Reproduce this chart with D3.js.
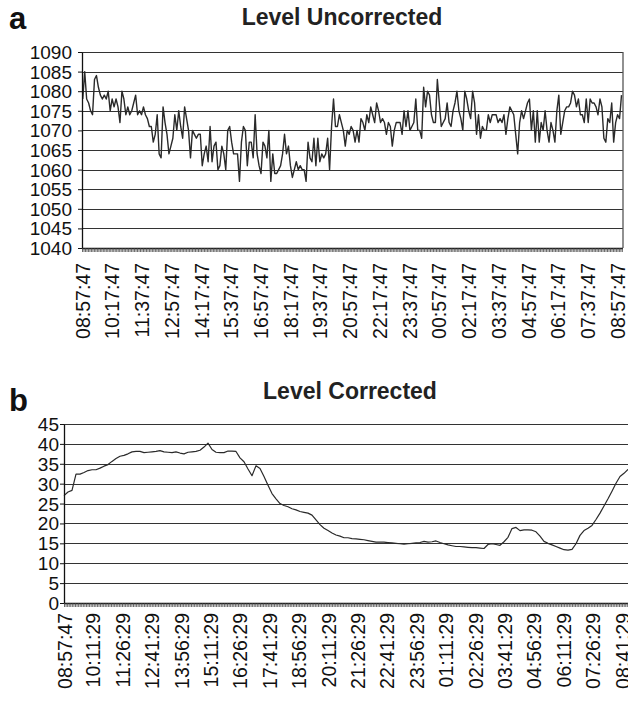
<!DOCTYPE html>
<html lang="en">
  <head>
    <meta charset="UTF-8" />
    <title>Level Uncorrected / Level Corrected</title>
    <style>
      body {
        margin: 0;
        background: #fff;
        font-family: "Liberation Sans", Arial, Helvetica, sans-serif;
      }
      svg {
        display: block;
      }
    </style>
  </head>
  <body>
    <script src="https://cdn.jsdelivr.net/npm/d3@7"></script>
    <script>
      // values
      var uncorrected = [
        1078, 1085, 1078, 1077, 1075, 1074, 1083, 1084, 1081, 1079, 1078, 1079, 1078, 1080, 1075, 1078,
        1076, 1078, 1076, 1072, 1080, 1078, 1074, 1076, 1074, 1075, 1077, 1079, 1074, 1075, 1074, 1076,
        1074, 1073, 1071, 1071, 1067, 1069, 1074, 1064, 1063, 1076, 1072, 1069, 1064, 1066, 1068, 1074,
        1070, 1075, 1071, 1068, 1076, 1073, 1070, 1063, 1070, 1069, 1068, 1069, 1069, 1061, 1064, 1066,
        1062, 1071, 1062, 1066, 1067, 1060, 1061, 1066, 1064, 1060, 1070, 1071, 1067, 1064, 1064, 1064,
        1057, 1067, 1071, 1070, 1061, 1067, 1067, 1063, 1074, 1064, 1061, 1059, 1067, 1066, 1063, 1070,
        1057, 1064, 1059, 1059, 1060, 1061, 1064, 1069, 1064, 1066, 1061, 1058, 1060, 1062, 1060, 1061,
        1060, 1060, 1057, 1067, 1063, 1062, 1068, 1061, 1068, 1062, 1064, 1063, 1064, 1068, 1060, 1071,
        1078, 1071, 1071, 1074, 1072, 1070, 1066, 1070, 1069, 1071,
        1070, 1067, 1070, 1067, 1073, 1072, 1070, 1074, 1072, 1076, 1074, 1072, 1077, 1075, 1072, 1073,
        1072, 1069, 1072, 1071, 1066, 1070, 1072, 1072, 1072, 1069, 1075, 1071, 1075, 1070, 1071, 1072,
        1078, 1070, 1070, 1068, 1081, 1076, 1080, 1079, 1074, 1072, 1072, 1083, 1077, 1071, 1072, 1073,
        1077, 1072, 1071, 1075, 1077, 1080, 1075, 1073, 1070, 1080, 1078, 1075, 1073, 1080, 1077, 1069,
        1074, 1068, 1071, 1070, 1070, 1074, 1072, 1074, 1074, 1074, 1072, 1073, 1072, 1074, 1069, 1073,
        1076, 1075, 1074, 1069, 1064, 1072, 1075, 1073, 1075, 1077, 1078, 1070, 1075, 1067, 1075, 1067,
        1072, 1070, 1075, 1070, 1067, 1072, 1070, 1067, 1075, 1079, 1069, 1072, 1075, 1076, 1076, 1077,
        1080, 1079, 1076, 1078, 1074, 1074, 1072, 1078, 1072, 1078, 1077, 1077, 1076, 1074, 1078, 1076,
        1068, 1067, 1073, 1072, 1077, 1067, 1072, 1074, 1073, 1079
      ];

      var corrected = [
        27.0, 27.9, 28.3, 32.4, 32.4, 32.8, 33.3, 33.5, 33.5, 33.9, 34.4, 34.8, 35.6, 36.3, 36.9, 37.1,
        37.5, 38.0, 38.1, 38.1, 37.8, 37.9, 38.0, 38.1, 38.3, 38.0, 37.9, 37.8, 38.0, 37.7, 37.5, 37.9,
        38.0, 38.1, 38.4, 39.2, 40.2, 38.6, 37.9, 37.8, 37.8, 38.2, 38.2, 38.1, 36.5, 35.5, 33.7, 32.0,
        34.5, 33.8, 31.8, 29.6, 27.5, 26.2, 25.0, 24.5, 24.2, 23.7, 23.4, 23.0, 22.8, 22.6, 22.1, 20.9,
        19.7, 18.8, 18.2, 17.6, 17.1, 16.8, 16.4,
        16.4, 16.2, 16.1, 16.0, 15.9, 15.7, 15.5, 15.3, 15.3, 15.3, 15.2, 15.1, 15.0, 14.9, 14.8, 14.9,
        15.0, 15.1, 15.2, 15.5, 15.3, 15.4, 15.6, 15.2, 14.9, 14.6, 14.4, 14.2, 14.2, 14.1, 14.0, 13.9,
        13.9, 13.8, 13.7, 14.7, 14.9, 14.7, 14.5, 15.4, 16.5, 18.7, 19.0, 18.2, 18.4, 18.4, 18.3, 17.9,
        16.8, 15.5, 15.0, 14.6, 14.2, 13.8, 13.4, 13.3, 13.5, 14.9, 17.0, 18.2, 18.8, 19.5, 21.0, 22.6,
        24.4, 26.2, 28.1, 30.1, 31.8, 32.6, 33.6
      ];

      var labelsA = [
        "08:57:47", "10:17:47", "11:37:47", "12:57:47", "14:17:47", "15:37:47", "16:57:47",
        "18:17:47", "19:37:47", "20:57:47", "22:17:47", "23:37:47", "00:57:47", "02:17:47",
        "03:37:47", "04:57:47", "06:17:47", "07:37:47", "08:57:47"
      ];
      var labelsB = [
        "08:57:47", "10:11:29", "11:26:29", "12:41:29", "13:56:29", "15:11:29", "16:26:29",
        "17:41:29", "18:56:29", "20:11:29", "21:26:29", "22:41:29", "23:56:29", "01:11:29",
        "02:26:29", "03:41:29", "04:56:29", "06:11:29", "07:26:29", "08:41:29"
      ];
      var yTicksA = [1040, 1045, 1050, 1055, 1060, 1065, 1070, 1075, 1080, 1085, 1090];
      var yTicksB = [0, 5, 10, 15, 20, 25, 30, 35, 40, 45];

      // minutes elapsed since the first label, wrapping past midnight
      function toMinutes(labels) {
        var s = labels[0].split(":").map(Number);
        var s0 = s[0] * 60 + s[1] + s[2] / 60;
        return labels.map(function(t, i) {
          var p = t.split(":").map(Number);
          var m = p[0] * 60 + p[1] + p[2] / 60 - s0;
          if (i > 0 && m <= 0) m += 1440;
          return m;
        });
      }

      var svg = d3
        .select("body")
        .append("svg")
        .attr("width", 628)
        .attr("height", 702);

      function panel(cfg) {
        var g = svg.append("g");
        var x = d3.scaleLinear().domain(cfg.xDomain).range([cfg.left, cfg.right]);
        var y = d3.scaleLinear().domain(cfg.yDomain).range([cfg.bottom, cfg.top]);
        var step = (cfg.seriesEnd - cfg.seriesStart) / (cfg.values.length - 1);
        var edge = cfg.gridRight || cfg.right;

        // horizontal gridlines
        g.selectAll("line.grid")
          .data(cfg.yTicks.filter(function(v) { return v !== cfg.yDomain[0]; }))
          .enter()
          .append("line")
          .attr("class", "grid")
          .attr("x1", cfg.left)
          .attr("x2", edge)
          .attr("y1", function(d) { return Math.round(y(d)) + 0.5; })
          .attr("y2", function(d) { return Math.round(y(d)) + 0.5; })
          .attr("stroke", "#333")
          .attr("stroke-width", 1.2);

        if (cfg.rightBorder) {
          g.append("line")
            .attr("x1", cfg.right)
            .attr("x2", cfg.right)
            .attr("y1", cfg.top)
            .attr("y2", cfg.bottom)
            .attr("stroke", "#555")
            .attr("stroke-width", 1.3);
        }

        // the series
        var line = d3
          .line()
          .x(function(d, i) { return x(cfg.seriesStart + i * step); })
          .y(function(d) { return y(d); });
        g.append("path")
          .datum(cfg.values)
          .attr("fill", "none")
          .attr("stroke", "#2a2a2a")
          .attr("stroke-width", cfg.lineWidth)
          .attr("stroke-linejoin", "round")
          .attr("d", line);

        // y axis
        var ya = g
          .append("g")
          .attr("transform", "translate(" + cfg.left + ",0)")
          .call(
            d3.axisLeft(y)
              .tickValues(cfg.yTicks)
              .tickSize(4)
              .tickSizeOuter(0)
              .tickPadding(cfg.yPad)
              .tickFormat(d3.format("d"))
          );
        ya.select(".domain").attr("stroke", "#111").attr("stroke-width", 1.3);
        ya.selectAll(".tick line").attr("stroke", "#111");
        ya.selectAll("text")
          .attr("fill", "#111")
          .attr("font-size", 19)
          .attr("font-family", "Liberation Sans, Arial, sans-serif")
          .attr("dy", "0.34em");

        // minor ticks along the x axis
        var xa = g
          .append("g")
          .attr("transform", "translate(0," + cfg.bottom + ")")
          .call(
            d3.axisBottom(x)
              .tickValues(d3.range(0, cfg.xDomain[1], cfg.minorStep))
              .tickSize(4)
              .tickSizeOuter(0)
              .tickFormat("")
          );
        xa.select(".domain")
          .attr("d", "M" + cfg.left + ",0.5H" + edge)
          .attr("stroke", "#111")
          .attr("stroke-width", 1.3);
        xa.selectAll(".tick line").attr("stroke", "#444").attr("stroke-width", 0.8);

        // rotated time labels
        var mins = toMinutes(cfg.labels);
        var la = g
          .append("g")
          .attr("transform", "translate(0," + cfg.bottom + ")")
          .call(
            d3.axisBottom(x)
              .tickValues(mins)
              .tickSize(0)
              .tickFormat(function(d, i) { return cfg.labels[i]; })
          );
        la.select(".domain").remove();
        la.selectAll("text")
          .attr("transform", "rotate(-90)")
          .attr("text-anchor", "end")
          .attr("x", -cfg.labelGap)
          .attr("y", 0)
          .attr("dy", "0.36em")
          .attr("fill", "#111")
          .attr("font-size", 19.5)
          .attr("font-family", "Liberation Sans, Arial, sans-serif");

        // title and panel letter
        g.append("text")
          .attr("x", cfg.titleX)
          .attr("y", cfg.titleY)
          .attr("text-anchor", "middle")
          .attr("font-size", 23)
          .attr("font-weight", "bold")
          .attr("fill", "#222")
          .text(cfg.title);
        g.append("text")
          .attr("x", 9)
          .attr("y", cfg.letterY)
          .attr("font-size", 31)
          .attr("font-weight", "bold")
          .attr("fill", "#111")
          .text(cfg.letter);
      }

      panel({
        values: uncorrected,
        labels: labelsA,
        yTicks: yTicksA,
        yDomain: [1040, 1090],
        xDomain: [0, 1455],
        seriesStart: 2,
        seriesEnd: 1451,
        minorStep: 4,
        left: 82,
        right: 623,
        top: 52,
        bottom: 248,
        yPad: 6,
        labelGap: 15,
        lineWidth: 1.4,
        rightBorder: true,
        title: "Level Uncorrected",
        titleX: 342,
        titleY: 25,
        letter: "a",
        letterY: 29
      });

      panel({
        values: corrected,
        labels: labelsB,
        yTicks: yTicksB,
        yDomain: [0, 45],
        xDomain: [0, 1439],
        seriesStart: 0,
        seriesEnd: 1439,
        minorStep: 4,
        left: 64,
        right: 628,
        gridRight: 640,
        top: 424,
        bottom: 603,
        yPad: 1,
        labelGap: 10,
        lineWidth: 1.2,
        rightBorder: false,
        title: "Level Corrected",
        titleX: 350,
        titleY: 399,
        letter: "b",
        letterY: 411
      });
    </script>
  </body>
</html>
